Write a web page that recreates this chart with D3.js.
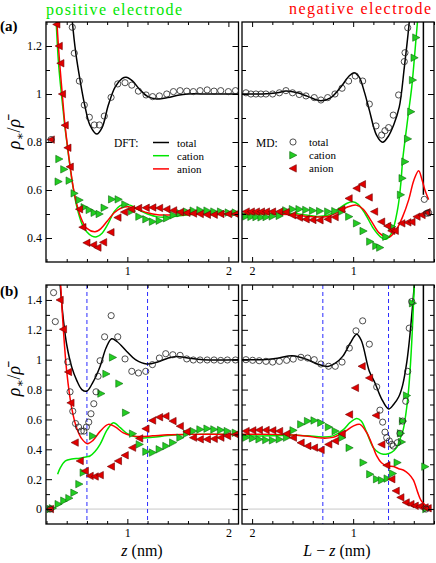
<!DOCTYPE html>
<meta charset="utf-8">
<style>
body { margin: 0; background: #fff; }
text { font-family: "Liberation Serif", "Times New Roman", "DejaVu Serif", serif; }
</style>
<svg width="436" height="563"></svg>
<script src="https://d3js.org/d3.v7.min.js"></script>
<script>

// ---- panel (a), positive electrode (z in nm) ----
var aPosDftTotal = [[0.43,1.45],[0.456,1.3],[0.49,1.17],[0.532,1.058],[0.58,0.95],[0.63,0.87],[0.697,0.833],[0.75,0.86],[0.812,0.954],[0.88,1.03],[0.95,1.065],[0.987,1.07],[1.05,1.055],[1.12,1.02],[1.2,0.99],[1.29,0.979],[1.4,0.985],[1.5,0.995],[1.6,1.0],[1.8,1.0],[2.1,1.0]];
var aPosDftCation = [[0.29,1.35],[0.317,1.14],[0.34,1.03],[0.36,0.95],[0.383,0.86],[0.41,0.77],[0.435,0.69],[0.465,0.605],[0.5,0.53],[0.55,0.46],[0.6,0.425],[0.65,0.408],[0.697,0.405],[0.75,0.42],[0.81,0.46],[0.87,0.51],[0.93,0.535],[0.977,0.541],[1.04,0.535],[1.12,0.515],[1.2,0.5],[1.3,0.488],[1.4,0.487],[1.5,0.492],[1.7,0.5],[2.1,0.5]];
var aPosDftAnion = [[0.285,1.45],[0.31,1.25],[0.33,1.13],[0.356,1.0],[0.383,0.87],[0.41,0.775],[0.435,0.695],[0.465,0.61],[0.5,0.54],[0.55,0.475],[0.6,0.44],[0.68,0.426],[0.74,0.44],[0.8,0.47],[0.87,0.505],[0.94,0.525],[1.01,0.53],[1.1,0.52],[1.2,0.505],[1.3,0.497],[1.5,0.496],[1.7,0.5],[2.1,0.5]];
var aPosMdTotal = [[0.245,0.81],[0.455,1.278],[0.475,1.17],[0.525,1.054],[0.574,0.954],[0.624,0.903],[0.673,0.871],[0.723,0.871],[0.772,0.908],[0.839,0.986],[0.905,1.042],[0.977,1.047],[1.044,1.037],[1.109,1.012],[1.185,0.996],[1.25,0.989],[1.317,0.992],[1.39,1.0],[1.456,1.01],[1.522,1.014],[1.588,1.012],[1.653,1.01],[1.72,1.014],[1.79,1.017],[1.858,1.012],[1.924,1.014],[2.0,1.01],[2.07,1.014]];
var aPosMdCation = [[0.317,0.635],[0.324,0.729],[0.373,0.686],[0.426,0.639],[0.475,0.586],[0.525,0.558],[0.574,0.528],[0.624,0.517],[0.673,0.505],[0.723,0.5],[0.772,0.526],[0.846,0.561],[0.911,0.561],[0.977,0.54],[1.044,0.512],[1.116,0.489],[1.185,0.478],[1.25,0.468],[1.317,0.472],[1.39,0.482],[1.456,0.495],[1.522,0.503],[1.588,0.51],[1.653,0.514],[1.72,0.516],[1.79,0.514],[1.858,0.51],[1.924,0.51],[2.0,0.506],[2.07,0.506]];
var aPosMdAnion = [[0.245,0.81],[0.30,1.29],[0.324,1.2],[0.34,1.128],[0.356,1.0],[0.383,0.87],[0.41,0.776],[0.433,0.697],[0.525,0.52],[0.558,0.445],[0.598,0.38],[0.664,0.371],[0.707,0.36],[0.763,0.382],[0.836,0.424],[0.905,0.485],[0.97,0.508],[1.04,0.52],[1.11,0.525],[1.185,0.526],[1.25,0.527],[1.317,0.525],[1.39,0.52],[1.456,0.515],[1.522,0.508],[1.588,0.505],[1.653,0.502],[1.72,0.5],[1.79,0.497],[1.858,0.497],[1.924,0.5],[2.0,0.5],[2.07,0.5]];

// ---- panel (a), negative electrode (L - z in nm) ----
var aNegDftTotal = [[2.1,1.0],[1.9,1.0],[1.75,1.005],[1.666,1.012],[1.55,1.005],[1.45,0.99],[1.32,0.972],[1.22,0.985],[1.12,1.03],[1.04,1.075],[0.989,1.089],[0.94,1.07],[0.89,1.01],[0.84,0.933],[0.77,0.83],[0.708,0.799],[0.65,0.825],[0.6,0.87],[0.544,0.945],[0.494,1.11],[0.445,1.3],[0.42,1.45]];
var aNegDftWall = [[0.305,1.45],[0.305,0.58]];
var aNegDftCation = [[2.1,0.5],[1.8,0.5],[1.6,0.502],[1.45,0.495],[1.35,0.49],[1.25,0.495],[1.15,0.52],[1.06,0.545],[1.005,0.551],[0.95,0.54],[0.88,0.5],[0.8,0.44],[0.73,0.405],[0.675,0.395],[0.62,0.42],[0.56,0.52],[0.53,0.62],[0.51,0.725],[0.48,0.83],[0.45,0.93],[0.42,1.03],[0.4,1.12],[0.38,1.22],[0.36,1.32],[0.34,1.45]];
var aNegDftAnion = [[2.1,0.5],[1.8,0.5],[1.6,0.497],[1.45,0.49],[1.35,0.487],[1.25,0.49],[1.15,0.507],[1.05,0.53],[0.97,0.537],[0.9,0.52],[0.82,0.47],[0.74,0.42],[0.648,0.403],[0.58,0.43],[0.51,0.489],[0.45,0.56],[0.4,0.64],[0.352,0.68],[0.32,0.645],[0.29,0.6],[0.253,0.56]];
var aNegMdTotal = [[2.061,1.005],[2.012,1.0],[1.962,1.0],[1.913,1.0],[1.863,1.0],[1.797,1.0],[1.73,1.005],[1.665,1.014],[1.6,1.005],[1.534,0.998],[1.467,0.992],[1.385,0.985],[1.319,0.975],[1.252,0.985],[1.18,1.0],[1.11,1.024],[1.045,1.054],[0.979,1.075],[0.906,1.054],[0.84,0.958],[0.774,0.867],[0.718,0.829],[0.685,0.847],[0.649,0.86],[0.603,0.912],[0.55,0.996],[0.494,1.135],[0.487,1.172],[0.46,1.276],[0.296,0.561],[0.272,0.503],[0.253,0.505]];
var aNegMdCation = [[2.06,0.49],[2.01,0.488],[1.96,0.487],[1.91,0.486],[1.86,0.487],[1.8,0.49],[1.73,0.492],[1.665,0.515],[1.6,0.52],[1.534,0.52],[1.467,0.517],[1.4,0.514],[1.33,0.512],[1.25,0.51],[1.18,0.512],[1.114,0.51],[1.042,0.489],[0.965,0.461],[0.9,0.429],[0.834,0.385],[0.774,0.367],[0.735,0.36],[0.675,0.405],[0.616,0.447],[0.53,0.58],[0.514,0.649],[0.487,0.718],[0.46,0.813],[0.428,0.926],[0.411,1.058],[0.395,1.151],[0.378,1.235]];
var aNegMdAnion = [[2.06,0.51],[2.01,0.51],[1.96,0.51],[1.91,0.51],[1.86,0.51],[1.8,0.51],[1.73,0.51],[1.665,0.508],[1.6,0.495],[1.534,0.485],[1.467,0.478],[1.4,0.475],[1.33,0.474],[1.25,0.478],[1.18,0.487],[1.114,0.52],[1.042,0.565],[0.965,0.607],[0.91,0.624],[0.843,0.569],[0.79,0.51],[0.72,0.468],[0.66,0.45],[0.62,0.43],[0.585,0.43],[0.52,0.461],[0.46,0.465],[0.42,0.467],[0.37,0.489],[0.32,0.496],[0.27,0.507]];

// ---- panel (b), positive electrode ----
var bPosDftTotal = [[0.32,1.65],[0.335,1.5],[0.37,1.25],[0.4,1.1],[0.45,0.95],[0.5,0.86],[0.55,0.8],[0.598,0.789],[0.66,0.85],[0.73,0.955],[0.79,1.08],[0.845,1.14],[0.9,1.12],[0.994,1.055],[1.08,1.0],[1.192,0.971],[1.3,0.985],[1.4,1.01],[1.489,1.022],[1.6,1.012],[1.75,1.0],[2.1,1.0]];
var bPosDftCation = [[0.31,0.233],[0.34,0.28],[0.387,0.322],[0.45,0.335],[0.53,0.34],[0.6,0.35],[0.63,0.355],[0.68,0.385],[0.73,0.433],[0.8,0.53],[0.862,0.578],[0.93,0.545],[1.0,0.505],[1.126,0.478],[1.25,0.48],[1.4,0.492],[1.6,0.5],[2.1,0.5]];
var bPosDftAnion = [[0.325,1.65],[0.34,1.5],[0.366,1.211],[0.4,0.922],[0.449,0.678],[0.5,0.54],[0.55,0.47],[0.605,0.438],[0.66,0.46],[0.73,0.52],[0.812,0.567],[0.88,0.55],[0.96,0.51],[1.05,0.49],[1.126,0.485],[1.25,0.49],[1.4,0.498],[1.6,0.5],[2.1,0.5]];
var bPosMdTotal = [[0.237,0],[0.27,1.449],[0.287,1.255],[0.41,0.985],[0.433,0.785],[0.46,0.655],[0.487,0.573],[0.517,0.549],[0.544,0.522],[0.57,0.522],[0.595,0.549],[0.618,0.582],[0.64,0.638],[0.668,0.705],[0.69,0.785],[0.71,0.889],[0.73,0.993],[0.775,1.153],[0.84,1.295],[0.905,1.153],[0.977,1.005],[1.044,0.922],[1.11,0.911],[1.182,0.922],[1.248,0.967],[1.317,1.011],[1.38,1.04],[1.45,1.033],[1.522,1.029],[1.588,1.005],[1.653,0.998],[1.72,0.998],[1.79,0.998],[1.858,0.998],[1.924,0.995],[1.99,0.998],[2.07,0.998]];
var bPosMdCation = [[0.237,0],[0.26,0.005],[0.317,0.033],[0.373,0.056],[0.423,0.073],[0.473,0.109],[0.522,0.167],[0.565,0.244],[0.658,0.489],[0.74,0.773],[0.79,0.905],[0.855,1.015],[0.918,0.84],[0.984,0.645],[1.053,0.505],[1.12,0.433],[1.185,0.384],[1.25,0.378],[1.317,0.4],[1.383,0.422],[1.45,0.445],[1.522,0.478],[1.588,0.505],[1.653,0.522],[1.72,0.533],[1.79,0.538],[1.858,0.533],[1.924,0.529],[1.99,0.522],[2.07,0.511]];
var bPosMdAnion = [[0.237,0],[0.333,1.4],[0.366,1.204],[0.416,0.918],[0.44,0.711],[0.482,0.445],[0.532,0.322],[0.582,0.255],[0.63,0.222],[0.68,0.218],[0.73,0.227],[0.84,0.285],[0.91,0.322],[0.977,0.36],[1.05,0.411],[1.12,0.473],[1.182,0.538],[1.248,0.593],[1.317,0.615],[1.38,0.622],[1.45,0.589],[1.522,0.555],[1.588,0.518],[1.653,0.478],[1.72,0.467],[1.79,0.467],[1.858,0.47],[1.924,0.478],[1.99,0.489],[2.07,0.5]];

// ---- panel (b), negative electrode ----
var bNegDftTotal = [[2.1,1.0],[1.9,1.0],[1.75,1.01],[1.6,1.027],[1.45,1.0],[1.35,0.97],[1.25,0.955],[1.18,0.975],[1.104,1.022],[1.03,1.11],[0.965,1.171],[0.92,1.13],[0.84,0.922],[0.784,0.844],[0.72,0.74],[0.649,0.67],[0.6,0.7],[0.55,0.75],[0.51,0.83],[0.47,0.98],[0.445,1.12],[0.42,1.3],[0.395,1.5],[0.38,1.65]];
var bNegDftWall = [[0.305,1.65],[0.305,0]];
var bNegDftCation = [[2.1,0.49],[1.8,0.49],[1.6,0.495],[1.45,0.49],[1.3,0.483],[1.2,0.49],[1.1,0.53],[1.03,0.58],[0.965,0.607],[0.92,0.59],[0.87,0.52],[0.8,0.411],[0.75,0.38],[0.702,0.367],[0.675,0.367],[0.62,0.38],[0.57,0.411],[0.53,0.48],[0.504,0.533],[0.47,0.68],[0.445,0.85],[0.42,1.12],[0.4,1.42],[0.385,1.65]];
var bNegDftAnion = [[2.1,0.5],[1.8,0.5],[1.6,0.495],[1.45,0.487],[1.3,0.475],[1.2,0.48],[1.1,0.51],[1.0,0.555],[0.933,0.567],[0.866,0.511],[0.8,0.41],[0.767,0.356],[0.72,0.31],[0.668,0.29],[0.6,0.285],[0.55,0.27],[0.5,0.26],[0.45,0.235],[0.405,0.195],[0.36,0.11],[0.33,0.06],[0.3,0.035],[0.26,0.015],[0.23,0.005]];
var bNegMdTotal = [[2.061,1.0],[1.995,0.996],[1.93,0.993],[1.863,0.989],[1.797,0.984],[1.73,0.989],[1.658,0.996],[1.593,1.004],[1.517,1.016],[1.45,1.011],[1.385,1.0],[1.319,0.971],[1.243,0.956],[1.177,0.956],[1.11,0.984],[1.038,1.078],[0.972,1.193],[0.906,1.26],[0.84,1.104],[0.767,0.818],[0.735,0.662],[0.708,0.582],[0.685,0.515],[0.668,0.478],[0.642,0.456],[0.619,0.433],[0.603,0.422],[0.563,0.444],[0.537,0.507],[0.51,0.589],[0.48,0.722],[0.46,0.922],[0.445,1.211],[0.421,1.389],[0.279,0]];
var bNegMdCation = [[2.061,0.478],[1.995,0.473],[1.93,0.467],[1.863,0.462],[1.797,0.46],[1.73,0.467],[1.658,0.478],[1.593,0.527],[1.517,0.567],[1.45,0.589],[1.385,0.593],[1.319,0.578],[1.243,0.549],[1.177,0.522],[1.11,0.478],[1.038,0.41],[0.9,0.311],[0.834,0.233],[0.767,0.2],[0.718,0.193],[0.662,0.204],[0.609,0.238],[0.563,0.311],[0.52,0.449],[0.53,0.507],[0.51,0.589],[0.47,0.76],[0.411,1.378],[0.289,0.284],[0.279,0]];
var bNegMdAnion = [[2.061,0.522],[1.995,0.527],[1.93,0.529],[1.863,0.529],[1.797,0.527],[1.73,0.522],[1.658,0.504],[1.593,0.478],[1.517,0.444],[1.45,0.422],[1.385,0.411],[1.319,0.396],[1.243,0.433],[1.177,0.456],[1.11,0.504],[1.038,0.633],[0.979,0.811],[0.913,0.956],[0.84,0.878],[0.774,0.627],[0.718,0.433],[0.668,0.293],[0.619,0.2],[0.576,0.122],[0.53,0.078],[0.477,0.044],[0.43,0.033],[0.388,0.022],[0.34,0.018],[0.29,0.011],[0.26,0.005]];

// dashed guide positions (nm)
var bPosGuides = [0.6, 1.2];
var bNegGuides = [1.3, 0.65];

// ticks
var xMajor = [1, 2];
var xMinor = [0.2, 0.4, 0.6, 0.8, 1.2, 1.4, 1.6, 1.8];
var aMajor = [0.4, 0.6, 0.8, 1, 1.2];
var aMinor = [0.5, 0.7, 0.9, 1.1];
var bMajor = [0, 0.2, 0.4, 0.6, 0.8, 1, 1.2, 1.4];
var bMinor = [0.1, 0.3, 0.5, 0.7, 0.9, 1.1, 1.3];

var serif = "Liberation Serif, Times New Roman, DejaVu Serif, serif";
var green = "#00e600", red = "#ff0000";

var svg = d3.select("svg");

var xPos = d3.scaleLinear().domain([0.195, 2.1]).range([46, 238.5]);
var xNeg = d3.scaleLinear().domain([0.2, 2.1]).range([434, 242]);
var yA = d3.scaleLinear().domain([0.3, 1.3]).range([262, 22]);
var yB = d3.scaleLinear().domain([-0.1, 1.5]).range([524, 285]);

var triRight = "M-3.3,-3.7L3.9,0L-3.3,3.7Z";
var triLeft = "M3.3,-3.7L-3.9,0L3.3,3.7Z";

function drawPanel(p) {
  var x = p.x, y = p.y;
  var xr = x.range(), yr = y.range();
  var left = Math.min(xr[0], xr[1]), right = Math.max(xr[0], xr[1]);
  var top = yr[1], bottom = yr[0];

  var g = svg.append("g");
  g.append("clipPath").attr("id", p.id)
    .append("rect").attr("x", left).attr("y", top)
    .attr("width", right - left).attr("height", bottom - top);

  var body = g.append("g").attr("clip-path", "url(#" + p.id + ")");

  if (p.zero) {
    body.append("line")
      .attr("x1", left).attr("x2", right)
      .attr("y1", y(0)).attr("y2", y(0))
      .attr("stroke", "#c8c8c8").attr("stroke-width", 1);
  }

  (p.guides || []).forEach(function(d) {
    body.append("line")
      .attr("x1", x(d)).attr("x2", x(d))
      .attr("y1", top).attr("y2", bottom)
      .attr("stroke", "#2b2bff").attr("stroke-width", 1)
      .attr("stroke-dasharray", "4,3");
  });

  var line = d3.line()
    .x(function(d) { return x(d[0]); })
    .y(function(d) { return y(d[1]); })
    .curve(d3.curveCatmullRom.alpha(0.5));

  body.append("path").datum(p.dftTotal)
    .attr("d", line).attr("fill", "none")
    .attr("stroke", "#000").attr("stroke-width", 1.5);
  if (p.wall) {
    body.append("path").datum(p.wall)
      .attr("d", d3.line().x(function(d) { return x(d[0]); }).y(function(d) { return y(d[1]); }))
      .attr("fill", "none").attr("stroke", "#000").attr("stroke-width", 1.5);
  }
  body.append("path").datum(p.dftCation)
    .attr("d", line).attr("fill", "none")
    .attr("stroke", green).attr("stroke-width", 1.5);
  body.append("path").datum(p.dftAnion)
    .attr("d", line).attr("fill", "none")
    .attr("stroke", red).attr("stroke-width", 1.5);

  body.append("g").selectAll("path")
    .data(p.mdCation).enter().append("path")
    .attr("d", triRight)
    .attr("transform", function(d) { return "translate(" + x(d[0]) + "," + y(d[1]) + ")"; })
    .attr("fill", "#22cc22").attr("stroke", "#0b6b0b").attr("stroke-width", 0.6);

  body.append("g").selectAll("path")
    .data(p.mdAnion).enter().append("path")
    .attr("d", triLeft)
    .attr("transform", function(d) { return "translate(" + x(d[0]) + "," + y(d[1]) + ")"; })
    .attr("fill", "#e00000").attr("stroke", "#700000").attr("stroke-width", 0.6);

  body.append("g").selectAll("circle")
    .data(p.mdTotal).enter().append("circle")
    .attr("cx", function(d) { return x(d[0]); })
    .attr("cy", function(d) { return y(d[1]); })
    .attr("r", 3.1)
    .attr("fill", "none").attr("stroke", "#222").attr("stroke-width", 0.8);

  // axes with inward ticks
  function clean(sel) {
    sel.attr("font-family", serif);
    sel.select(".domain").remove();
    sel.selectAll("text")
      .attr("font-family", serif)
      .attr("font-size", 12).attr("fill", "#000");
  }
  g.append("g").attr("transform", "translate(0," + bottom + ")")
    .call(d3.axisBottom(x).tickValues(xMajor).tickSize(-5).tickPadding(4).tickFormat(d3.format("d")))
    .call(clean);
  g.append("g").attr("transform", "translate(0," + bottom + ")")
    .call(d3.axisBottom(x).tickValues(xMinor).tickSize(-3).tickFormat(""))
    .call(clean);
  g.append("g").attr("transform", "translate(0," + top + ")")
    .call(d3.axisTop(x).tickValues(xMajor).tickSize(-5).tickFormat(""))
    .call(clean);
  g.append("g").attr("transform", "translate(0," + top + ")")
    .call(d3.axisTop(x).tickValues(xMinor).tickSize(-3).tickFormat(""))
    .call(clean);

  g.append("g").attr("transform", "translate(" + left + ",0)")
    .call(d3.axisLeft(y).tickValues(p.yMajor).tickSize(-6).tickPadding(4)
      .tickFormat(p.labels ? d3.format("~g") : ""))
    .call(clean);
  g.append("g").attr("transform", "translate(" + left + ",0)")
    .call(d3.axisLeft(y).tickValues(p.yMinor).tickSize(-4).tickFormat(""))
    .call(clean);
  g.append("g").attr("transform", "translate(" + right + ",0)")
    .call(d3.axisRight(y).tickValues(p.yMajor).tickSize(-6).tickFormat(""))
    .call(clean);
  g.append("g").attr("transform", "translate(" + right + ",0)")
    .call(d3.axisRight(y).tickValues(p.yMinor).tickSize(-4).tickFormat(""))
    .call(clean);

  g.append("rect")
    .attr("x", left).attr("y", top)
    .attr("width", right - left).attr("height", bottom - top)
    .attr("fill", "none").attr("stroke", "#000").attr("stroke-width", 1.3);
}

drawPanel({ id: "ca1", x: xPos, y: yA, yMajor: aMajor, yMinor: aMinor, labels: true,
  dftTotal: aPosDftTotal, dftCation: aPosDftCation, dftAnion: aPosDftAnion,
  mdTotal: aPosMdTotal, mdCation: aPosMdCation, mdAnion: aPosMdAnion });
drawPanel({ id: "ca2", x: xNeg, y: yA, yMajor: aMajor, yMinor: aMinor, labels: false,
  dftTotal: aNegDftTotal, wall: aNegDftWall, dftCation: aNegDftCation, dftAnion: aNegDftAnion,
  mdTotal: aNegMdTotal, mdCation: aNegMdCation, mdAnion: aNegMdAnion });
drawPanel({ id: "cb1", x: xPos, y: yB, yMajor: bMajor, yMinor: bMinor, labels: true, zero: true,
  guides: bPosGuides,
  dftTotal: bPosDftTotal, dftCation: bPosDftCation, dftAnion: bPosDftAnion,
  mdTotal: bPosMdTotal, mdCation: bPosMdCation, mdAnion: bPosMdAnion });
drawPanel({ id: "cb2", x: xNeg, y: yB, yMajor: bMajor, yMinor: bMinor, labels: false, zero: true,
  guides: bNegGuides,
  dftTotal: bNegDftTotal, wall: bNegDftWall, dftCation: bNegDftCation, dftAnion: bNegDftAnion,
  mdTotal: bNegMdTotal, mdCation: bNegMdCation, mdAnion: bNegMdAnion });

// titles
svg.append("text").attr("x", 46).attr("y", 15)
  .attr("font-size", 16).attr("fill", green)
  .attr("textLength", 136).text("positive electrode");
svg.append("text").attr("x", 289).attr("y", 14)
  .attr("font-size", 16).attr("fill", red)
  .attr("textLength", 142).text("negative electrode");

// panel letters
svg.append("text").attr("x", 0).attr("y", 31)
  .attr("font-size", 15).attr("font-weight", "bold").text("(a)");
svg.append("text").attr("x", 0).attr("y", 296)
  .attr("font-size", 15).attr("font-weight", "bold").text("(b)");

// y labels
function yLabel(cy) {
  var t = svg.append("text")
    .attr("transform", "translate(20," + cy + ") rotate(-90)")
    .attr("text-anchor", "middle").attr("font-size", 18);
  t.append("tspan").attr("font-style", "italic").text("ρ");
  t.append("tspan").attr("font-size", 12).attr("dy", 4).text("∗");
  t.append("tspan").attr("dy", -4).text("/");
  t.append("tspan").attr("font-style", "italic").text("ρ\u0304");
}
yLabel(134);
yLabel(381);

// x labels
var xl = svg.append("text").attr("x", 142).attr("y", 556)
  .attr("text-anchor", "middle").attr("font-size", 16);
xl.append("tspan").attr("font-style", "italic").text("z");
xl.append("tspan").text(" (nm)");
var xr2 = svg.append("text").attr("x", 337).attr("y", 556)
  .attr("text-anchor", "middle").attr("font-size", 16);
xr2.append("tspan").attr("font-style", "italic").text("L");
xr2.append("tspan").text(" − ");
xr2.append("tspan").attr("font-style", "italic").text("z");
xr2.append("tspan").text(" (nm)");

// legends
var dftItems = [["total", "#000"], ["cation", green], ["anion", red]];
svg.append("text").attr("x", 114).attr("y", 147).attr("font-size", 11.5).text("DFT:");
dftItems.forEach(function(d, i) {
  var yy = 142.5 + i * 13.2;
  svg.append("line").attr("x1", 153).attr("x2", 169).attr("y1", yy).attr("y2", yy)
    .attr("stroke", d[1]).attr("stroke-width", 1.5);
  svg.append("text").attr("x", 177).attr("y", yy + 4).attr("font-size", 11).text(d[0]);
});

svg.append("text").attr("x", 256).attr("y", 147).attr("font-size", 11.5).text("MD:");
var mdLabels = ["total", "cation", "anion"];
mdLabels.forEach(function(d, i) {
  var yy = 142 + i * 13.2;
  if (i === 0) {
    svg.append("circle").attr("cx", 293).attr("cy", yy).attr("r", 3.1)
      .attr("fill", "none").attr("stroke", "#222").attr("stroke-width", 0.8);
  } else {
    svg.append("path").attr("d", i === 1 ? triRight : triLeft)
      .attr("transform", "translate(293," + yy + ")")
      .attr("fill", i === 1 ? "#22cc22" : "#e00000")
      .attr("stroke", i === 1 ? "#0b6b0b" : "#700000").attr("stroke-width", 0.6);
  }
  svg.append("text").attr("x", 309).attr("y", yy + 4).attr("font-size", 11).text(d);
});

</script>
